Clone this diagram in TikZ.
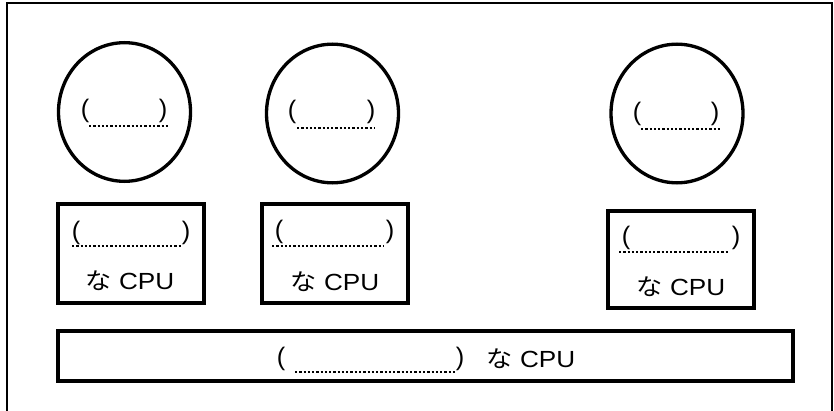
\documentclass[tikz,border=0pt]{standalone}
\usepackage{fontspec}
\usepackage{graphicx}
\setmainfont{Liberation Sans}
\newfontfamily\jpfont{Noto Sans CJK JP}
\usetikzlibrary{shapes.geometric}
\tikzset{
  frameline/.style={line width=1.4pt},
  thickbox/.style={draw, line width=2.8pt, rectangle, inner sep=0pt},
  bubble/.style={draw, line width=2.5pt, ellipse, inner sep=0pt, minimum width=99pt, minimum height=104pt},
  paren/.style={inner sep=0pt, font=\fontsize{19}{19}\selectfont},
  cpulabel/.style={inner sep=0pt, font=\fontsize{17.5}{17.5}\selectfont},
  blank/.style={line width=1pt, dash pattern=on 1.7pt off 1.5pt},
}
\newcommand{\cpu}{\scalebox{1.12}[1]{{\jpfont な} CPU}}
\begin{document}
\begin{tikzpicture}[x=0.75pt,y=-0.75pt]
\useasboundingbox (0,0) rectangle (834,410);
% outer frame (open at bottom)
\coordinate (fbl) at (7,411);
\coordinate (ftl) at (7,3);
\coordinate (ftr) at (832,3);
\coordinate (fbr) at (832,411);
\draw[frameline] (fbl) -- (ftl) -- (ftr) -- (fbr);

% circles
\node[bubble] (c1) at (124.5,112) {};
\node[bubble] (c2) at (332.5,113.5) {};
\node[bubble] (c3) at (677,113.5) {};

% boxes
\node[thickbox, minimum width=109.5pt, minimum height=74.25pt] (b1) at (131,253.5) {};
\node[thickbox, minimum width=109.5pt, minimum height=74.25pt] (b2) at (335,253.5) {};
\node[thickbox, minimum width=109.5pt, minimum height=72.75pt] (b3) at (681,259.5) {};
\node[thickbox, minimum width=551.25pt, minimum height=37.5pt] (b4) at (425.5,356) {};

% circle texts
\node[paren] (c1l) at (85,111) {(};
\node[paren] (c1r) at (163,111) {)};
\coordinate (c1a) at (89,126); \coordinate (c1b) at (168,126);
\draw[blank] (c1a) -- (c1b);
\node[paren] (c2l) at (292,112) {(};
\node[paren] (c2r) at (371,112) {)};
\coordinate (c2a) at (297,128); \coordinate (c2b) at (375,128);
\draw[blank] (c2a) -- (c2b);
\node[paren] (c3l) at (637,114) {(};
\node[paren] (c3r) at (715,114) {)};
\coordinate (c3a) at (641,129); \coordinate (c3b) at (722,129);
\draw[blank] (c3a) -- (c3b);

% box texts
\node[paren] (b1l) at (76,233) {(};
\node[paren] (b1r) at (186,233) {)};
\coordinate (b1a) at (72,246); \coordinate (b1b) at (182,246);
\draw[blank] (b1a) -- (b1b);
\node[cpulabel] (b1t) at (130,281) {\cpu};

\node[paren] (b2l) at (279,232) {(};
\node[paren] (b2r) at (390,232) {)};
\coordinate (b2a) at (272,246); \coordinate (b2b) at (383,246);
\draw[blank] (b2a) -- (b2b);
\node[cpulabel] (b2t) at (335,282) {\cpu};

\node[paren] (b3l) at (626,238) {(};
\node[paren] (b3r) at (736,238) {)};
\coordinate (b3a) at (619,252); \coordinate (b3b) at (728,252);
\draw[blank] (b3a) -- (b3b);
\node[cpulabel] (b3t) at (681,287) {\cpu};

% bottom text
\node[paren] (b4l) at (281,359) {(};
\node[paren] (b4r) at (460,359) {)};
\coordinate (b4a) at (295,372); \coordinate (b4b) at (457,372);
\draw[blank] (b4a) -- (b4b);
\node[cpulabel] (b4t) at (531,359) {\cpu};
\end{tikzpicture}
\end{document}
